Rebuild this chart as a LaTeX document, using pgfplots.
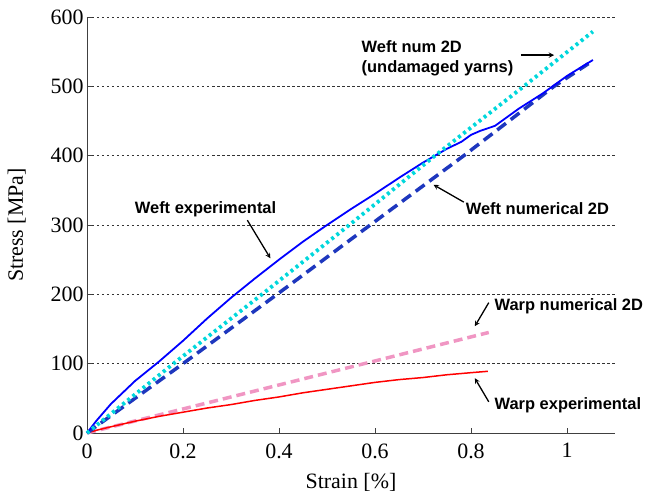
\documentclass[border=0pt]{standalone}
\usepackage{pgfplots}
\pgfplotsset{compat=1.18}
\usepackage{fontspec}
\setmainfont{Liberation Serif}
\newfontfamily\arial{Liberation Sans}
\definecolor{cyanc}{RGB}{0,215,220}
\definecolor{navyc}{RGB}{30,55,190}
\definecolor{pinkc}{RGB}{240,150,195}
\begin{document}
\begin{tikzpicture}
\begin{axis}[
  at={(0,0)}, anchor=south west,
  scale only axis, width=528bp, height=416bp,
  xmin=0, xmax=1.1, ymin=0, ymax=600,
  xtick={0,0.2,0.4,0.6,0.8,1}, ytick={0,100,...,600},
  xticklabels={0,0.2,0.4,0.6,0.8,1},
  axis x line*=bottom, axis y line*=left,
  axis line style={black!75, line width=0.9pt, -},
  tick style={black!75, line width=0.8pt},
  xtick pos=bottom, ytick pos=left,
  tick align=inside, major tick length=5bp,
  ymajorgrids, major grid style={black!80, dash pattern=on 2.5bp off 2.5bp, line width=0.6pt},
  ticklabel style={font=\fontsize{22}{22}\selectfont},
  xticklabel style={yshift=-7bp},
  /pgf/number format/assume math mode=true,
  xlabel={Strain [\%]}, ylabel={Stress [MPa]},
  label style={font=\fontsize{22}{22}\selectfont},
  xlabel style={yshift=-8bp},
  ylabel style={yshift=18bp},
  clip=false,
]
\addplot[pinkc, line width=3.5bp, dash pattern=on 9bp off 5bp] coordinates {(0,0) (0.837,145)};
\addplot[red, line width=1.5bp] coordinates {
(0,0) (0.02,4) (0.05,9) (0.1,17) (0.15,24) (0.2,30) (0.25,36) (0.3,41) (0.35,47) (0.4,52) (0.45,58) (0.5,63) (0.55,68) (0.6,73) (0.65,77) (0.7,80) (0.75,84) (0.8,87) (0.835,89)};
\addplot[navyc, line width=3.5bp, dash pattern=on 11bp off 6bp] coordinates {
(0,0) (0.2,100) (0.396,200) (0.59,300) (0.785,400) (0.973,500) (1.054,537)};
\addplot[blue, line width=1.8bp] coordinates {
(0,0) (0.02,18) (0.05,42) (0.1,75) (0.15,103) (0.2,133) (0.25,165) (0.3,195) (0.35,223) (0.4,250) (0.45,276) (0.5,300) (0.55,323) (0.6,345) (0.65,368) (0.7,390) (0.75,410) (0.78,420) (0.8,430) (0.82,436) (0.85,443) (0.9,468) (0.95,490) (1.0,515) (1.054,538)};
\addplot[cyanc, line width=3.8bp, dash pattern=on 3bp off 3.5bp] coordinates {
(0,0) (0.18,100) (0.37,203) (0.55,302) (0.725,400) (0.91,500) (1.054,579)};
% annotations
\def\af{\arial\bfseries\fontsize{16.5}{16.5}\selectfont}
\node[font=\af, anchor=center] at (axis cs:0.247,322) {Weft experimental};
\draw[-stealth, line width=1.3pt] (axis cs:0.334,307) -- (axis cs:0.382,252);
\node[font=\arial\bfseries\fontsize{16.5}{20}\selectfont, align=left, anchor=west] at (axis cs:0.565,540) {Weft num 2D\\(undamaged yarns)};
\draw[-stealth, line width=1.3pt] (axis cs:0.904,545) -- (axis cs:0.973,545);
\node[font=\af, anchor=west] at (axis cs:0.782,323) {Weft numerical 2D};
\draw[-stealth, line width=1.3pt] (axis cs:0.785,333) -- (axis cs:0.722,358);
\node[font=\af, anchor=west] at (axis cs:0.842,183) {Warp numerical 2D};
\draw[-stealth, line width=1.3pt] (axis cs:0.837,188) -- (axis cs:0.808,154);
\node[font=\af, anchor=west] at (axis cs:0.842,40) {Warp experimental};
\draw[-stealth, line width=1.3pt] (axis cs:0.837,45) -- (axis cs:0.808,79);
\end{axis}
\pgfresetboundingbox
\path[use as bounding box] (-87bp,-66bp) rectangle (559bp,433bp);
\end{tikzpicture}
\end{document}
